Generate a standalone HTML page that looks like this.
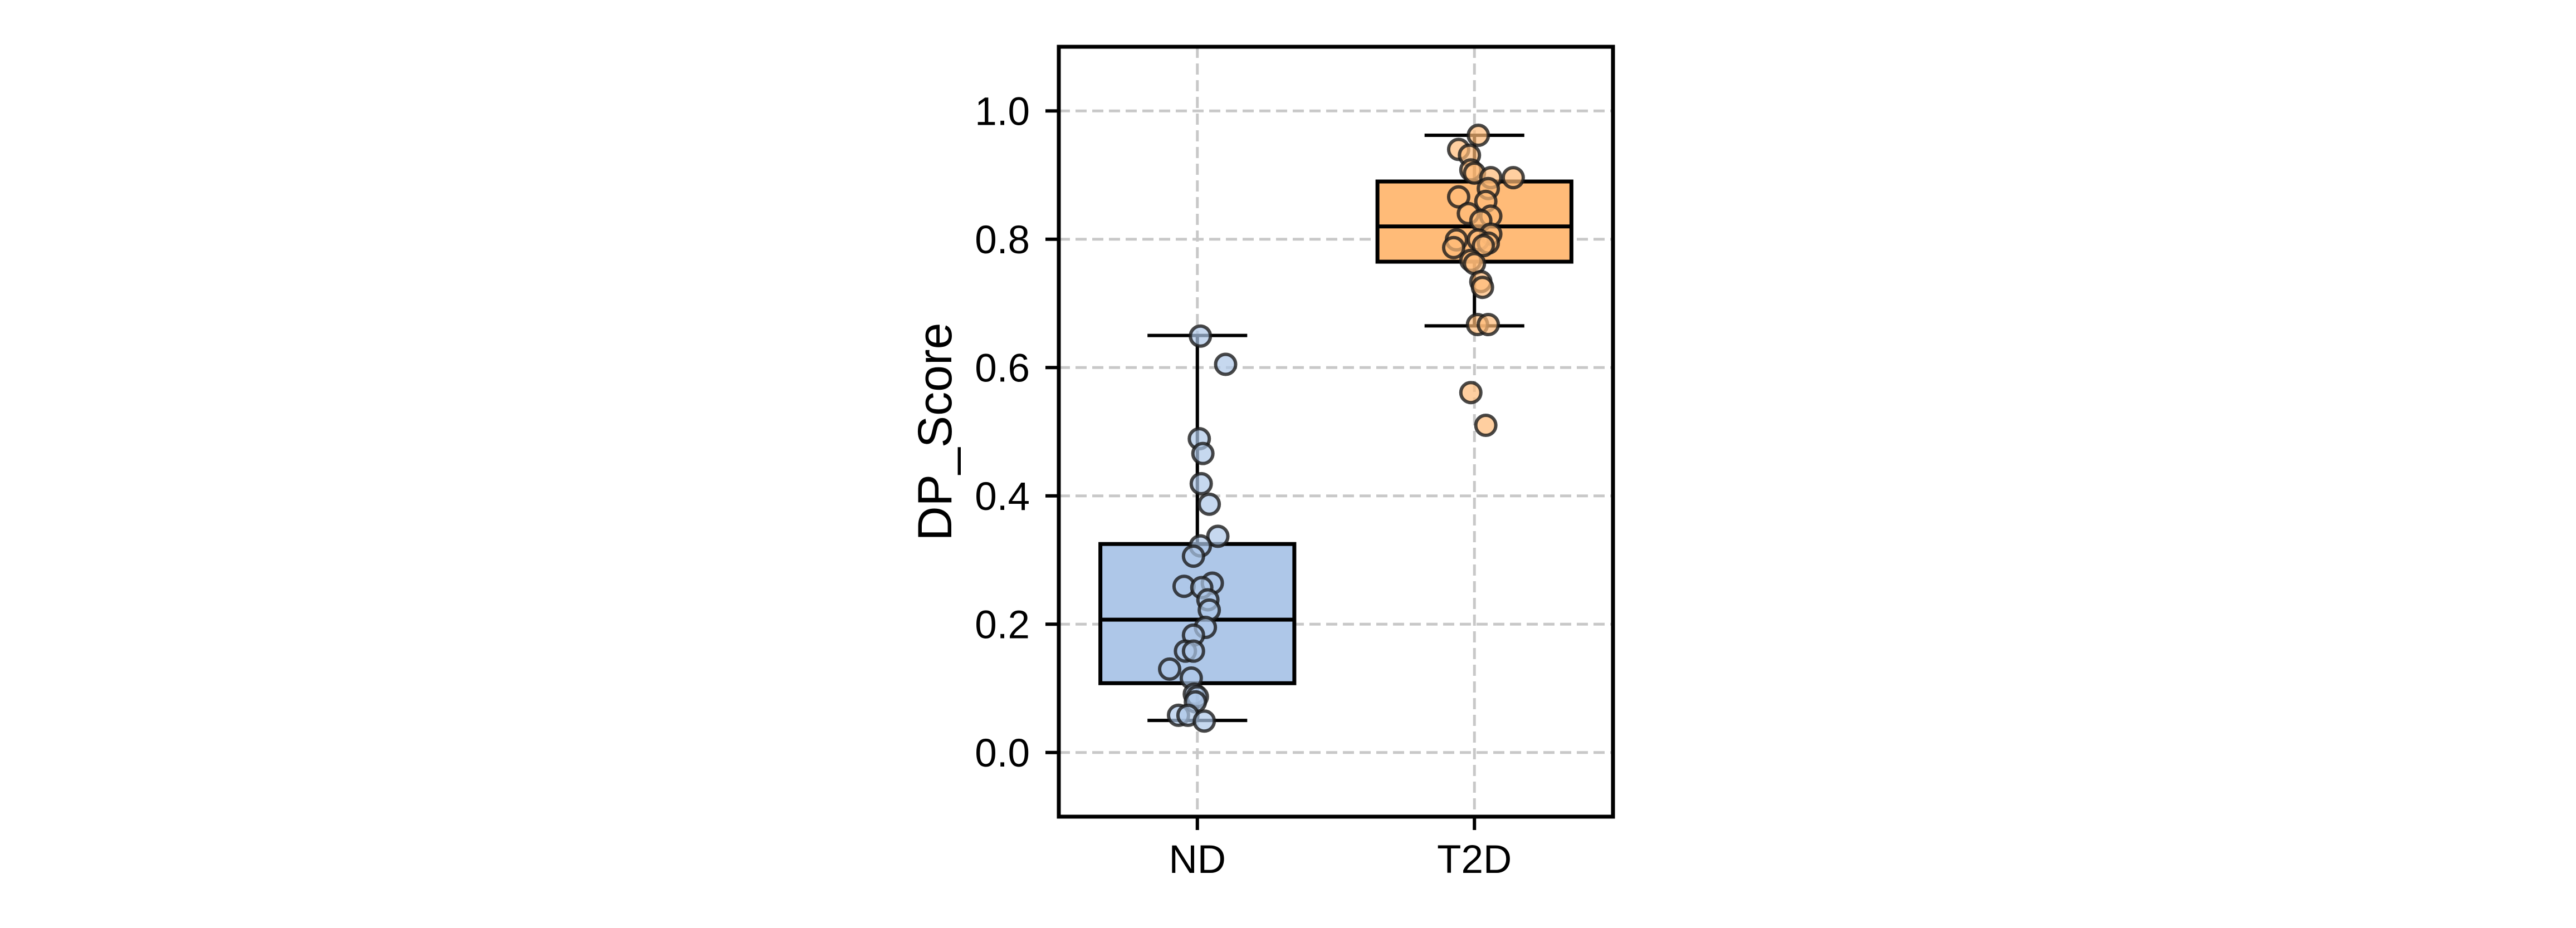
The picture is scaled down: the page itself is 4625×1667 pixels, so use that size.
<!DOCTYPE html>
<html><head><meta charset="utf-8"><style>
html,body{margin:0;padding:0;background:#fff;}
svg{display:block;font-family:"Liberation Sans",Arial,sans-serif;}
</style></head><body>
<svg id="chart" width="4625" height="1667" viewBox="0 0 4625 1667" xmlns="http://www.w3.org/2000/svg">
<rect x="0" y="0" width="4625" height="1667" fill="#fff"/>
<g id="grid"></g>
<g id="boxes"></g>
<g id="points"></g>
<g id="axes"></g>
</svg>
<script>
const categories = ["ND", "T2D"];
const colors = ["#aec7e8", "#ffbb78"];
const yTicks = [0.0, 0.2, 0.4, 0.6, 0.8, 1.0];
const yTickLabels = ["0.0", "0.2", "0.4", "0.6", "0.8", "1.0"];
const q1 = [0.108, 0.765];
const median = [0.207, 0.82];
const q3 = [0.325, 0.89];
const whiskLow = [0.05, 0.665];
const whiskHigh = [0.65, 0.962];
const ndValues = [0.649,0.605,0.489,0.466,0.419,0.387,0.337,0.322,0.306,0.264,0.259,0.257,0.238,0.222,0.195,0.183,0.158,0.158,0.130,0.116,0.091,0.087,0.079,0.058,0.058,0.049];
const ndJitter = [0.011,0.102,0.007,0.02,0.014,0.043,0.074,0.011,-0.014,0.054,-0.048,0.016,0.038,0.043,0.029,-0.014,-0.043,-0.014,-0.1,-0.022,-0.011,0,-0.007,-0.068,-0.034,0.025];
const t2dValues = [0.962,0.94,0.931,0.908,0.903,0.896,0.896,0.879,0.866,0.859,0.840,0.836,0.829,0.808,0.799,0.799,0.794,0.787,0.79,0.767,0.762,0.734,0.725,0.667,0.667,0.561,0.510];
const t2dJitter = [0.014,-0.057,-0.018,-0.013,0,0.059,0.14,0.05,-0.057,0.041,-0.022,0.059,0.023,0.059,-0.065,0.014,0.05,-0.075,0.032,-0.013,0,0.023,0.029,0.011,0.05,-0.013,0.041];

const NS = "http://www.w3.org/2000/svg";
const L = 1901, R = 2896, T = 84, B = 1467;
const xMin = -0.5, xMax = 1.5, yMin = -0.1, yMax = 1.1;
function xs(v){ return L + (v - xMin) / (xMax - xMin) * (R - L); }
function ys(v){ return B - (v - yMin) / (yMax - yMin) * (B - T); }
function mk(tag, attrs, parent){
  const e = document.createElementNS(NS, tag);
  for (const k in attrs) e.setAttribute(k, attrs[k]);
  parent.appendChild(e); return e;
}
const grid = document.getElementById("grid");
const boxes = document.getElementById("boxes");
const points = document.getElementById("points");
const axes = document.getElementById("axes");

yTicks.forEach((t, i) => {
  const g = mk("line", {x1: L, x2: R, y1: ys(t), y2: ys(t), stroke: "#c8c8c8", "stroke-width": 5, "stroke-dasharray": "20 10"}, grid);
  
  
});
categories.forEach((c, i) => {
  const g = mk("line", {x1: xs(i), x2: xs(i), y1: T, y2: B, stroke: "#c8c8c8", "stroke-width": 5, "stroke-dasharray": "20 10"}, grid);
  
  
});

const bw = 0.7, cw = 0.36;
categories.forEach((c, i) => {
  const g = mk("g", {}, boxes);
  
  
  const w1 = mk("line", {x1: xs(i), x2: xs(i), y1: ys(whiskLow[i]), y2: ys(q1[i]), stroke: "#000", "stroke-width": 6}, g);
  
  
  const w2 = mk("line", {x1: xs(i), x2: xs(i), y1: ys(q3[i]), y2: ys(whiskHigh[i]), stroke: "#000", "stroke-width": 6}, g);
  
  
  const c1 = mk("line", {x1: xs(i - cw/2), x2: xs(i + cw/2), y1: ys(whiskLow[i]), y2: ys(whiskLow[i]), stroke: "#000", "stroke-width": 6}, g);
  
  
  const c2 = mk("line", {x1: xs(i - cw/2), x2: xs(i + cw/2), y1: ys(whiskHigh[i]), y2: ys(whiskHigh[i]), stroke: "#000", "stroke-width": 6}, g);
  
  
  const r = mk("rect", {x: xs(i - bw/2), y: ys(q3[i]), width: xs(i + bw/2) - xs(i - bw/2), height: ys(q1[i]) - ys(q3[i]), fill: colors[i], stroke: "#000", "stroke-width": 7}, g);
  
  
  const m = mk("line", {x1: xs(i - bw/2), x2: xs(i + bw/2), y1: ys(median[i]), y2: ys(median[i]), stroke: "#000", "stroke-width": 7}, g);
  
  
});

function drawPts(vals, jit, idx){
  vals.forEach((v, k) => {
    const p = mk("circle", {cx: xs(idx + jit[k]), cy: ys(v), r: 18, fill: colors[idx], "fill-opacity": 0.7, stroke: "#1a1a1a", "stroke-opacity": 0.8, "stroke-width": 6}, points);
    
    
  });
}
drawPts(ndValues, ndJitter, 0);
drawPts(t2dValues, t2dJitter, 1);

const frame = mk("rect", {x: L, y: T, width: R - L, height: B - T, fill: "none", stroke: "#000", "stroke-width": 7}, axes);


yTicks.forEach((t, i) => {
  const tk = mk("line", {x1: L - 24, x2: L, y1: ys(t), y2: ys(t), stroke: "#000", "stroke-width": 6}, axes);
  
  
  const tx = mk("text", {x: 1849, y: ys(t) + 25, "text-anchor": "end", "font-size": 71, fill: "#000"}, axes);
  tx.textContent = yTickLabels[i];
  
  
});
categories.forEach((c, i) => {
  const tk = mk("line", {x1: xs(i), x2: xs(i), y1: B, y2: B + 24, stroke: "#000", "stroke-width": 6}, axes);
  
  
  const tx = mk("text", {x: xs(i), y: 1568, "text-anchor": "middle", "font-size": 71, fill: "#000"}, axes);
  tx.textContent = c;
  
  
});
const yl = mk("text", {x: 0, y: 0, "text-anchor": "middle", "font-size": 86, fill: "#000", transform: "translate(1708," + ((T + B) / 2) + ") rotate(-90)"}, axes);
yl.textContent = "DP_Score";


</script>
</body></html>
